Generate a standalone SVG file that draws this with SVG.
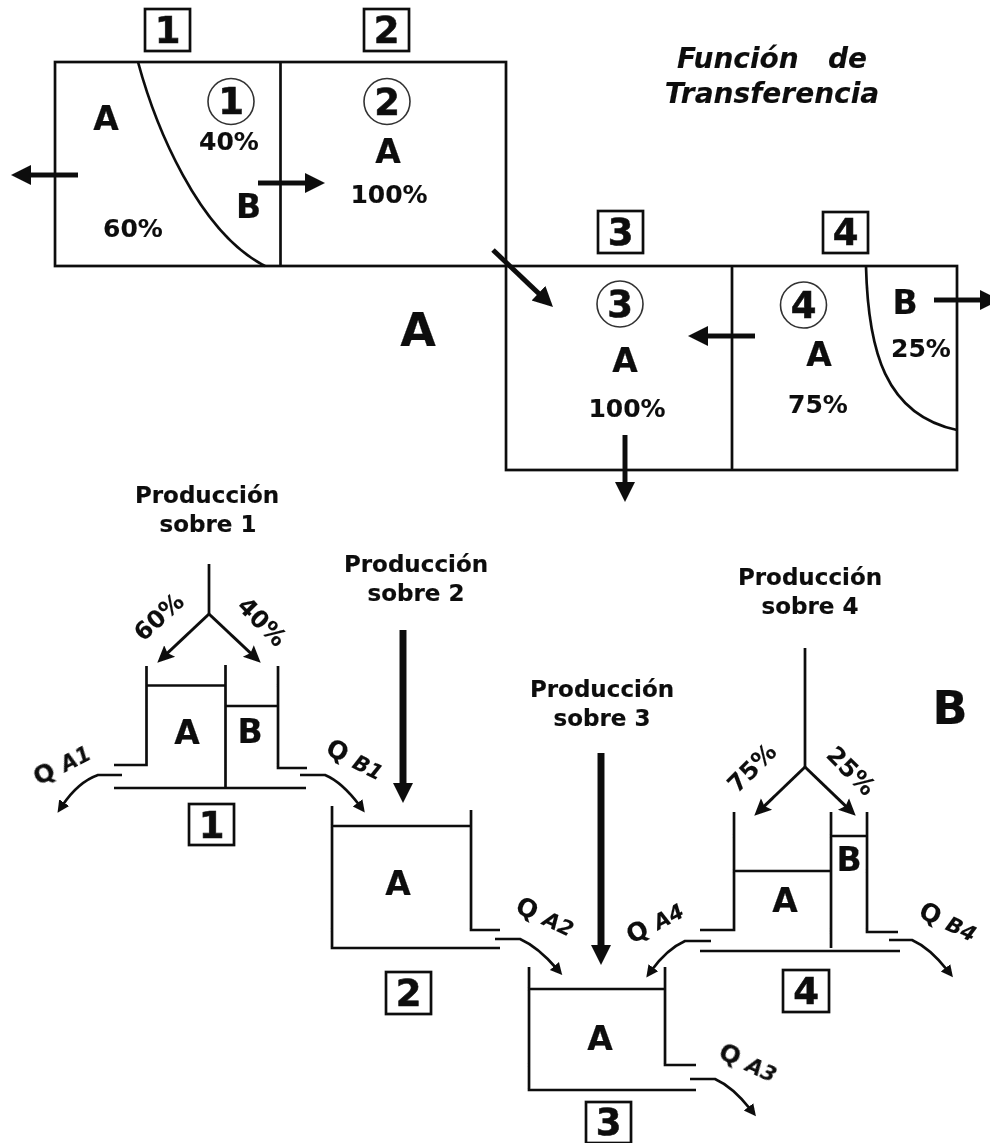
<svg xmlns="http://www.w3.org/2000/svg" width="990" height="1143" viewBox="0 0 990 1143">
<style>
text{font-family:"DejaVu Sans","Liberation Sans",sans-serif;font-weight:bold;fill:#111;text-anchor:middle;stroke:#111;stroke-width:.2}
.l{fill:none;stroke:#111;stroke-width:2.700}
.bx{fill:#fff;stroke:#111;stroke-width:2.700}
.c{fill:#fff;stroke:#333;stroke-width:1.600}
.n{font-size:37px;stroke-width:.6}.L{font-size:33px}.p{font-size:23px}.t{font-size:25px;stroke-width:.1}.big{font-size:46px}
.r{font-size:24px;stroke-width:.1}
.f{font-size:28px;font-style:italic;stroke-width:.1}
.q{font-size:25px;stroke-width:.1}.q tspan{font-size:21px;font-style:italic}
.a1{fill:none;stroke:#111;stroke-width:5}
.a2{fill:none;stroke:#111;stroke-width:3}
.a3{fill:none;stroke:#111;stroke-width:2.700}
.a4{fill:none;stroke:#111;stroke-width:7}
</style>
<defs>
<filter id="soft" filterUnits="userSpaceOnUse" x="0" y="0" width="990" height="1143"><feGaussianBlur stdDeviation="0.5"/></filter>
<marker id="h1" markerUnits="userSpaceOnUse" markerWidth="24" markerHeight="24" refX="8" refY="11" orient="auto"><path d="M0 1L20 11L0 21z" fill="#111"/></marker>
<marker id="h2" markerUnits="userSpaceOnUse" markerWidth="22" markerHeight="22" refX="6" refY="9" orient="auto"><path d="M0 1L17 9L0 17L3 9z" fill="#111"/></marker>
<marker id="h3" markerUnits="userSpaceOnUse" markerWidth="16" markerHeight="16" refX="4" refY="7" orient="auto"><path d="M0 1L12 7L0 13z" fill="#111"/></marker>
</defs>
<g filter="url(#soft)">
<g id="plan-1-2">
<rect class="l" x="55" y="62" width="451" height="204"/>
<path class="l" d="M280.500 62V266"/>
<path class="l" d="M138 62C155 125 198 232 265 266"/>
</g>
<g id="plan-3-4">
<rect class="l" x="506" y="266" width="451" height="204"/>
<path class="l" d="M732 266V470"/>
<path class="l" d="M866 266C868 350 885 415 957 430"/>
</g>
<g id="tag-1"><rect class="bx" x="145" y="9" width="45" height="42"/><text class="n" x="167.500" y="43">1</text></g>
<g id="tag-2"><rect class="bx" x="364" y="9" width="45" height="42"/><text class="n" x="386.500" y="43">2</text></g>
<g id="tag-3"><rect class="bx" x="598" y="211" width="45" height="42"/><text class="n" x="620.500" y="245">3</text></g>
<g id="tag-4"><rect class="bx" x="823" y="212" width="45" height="41"/><text class="n" x="845.500" y="245">4</text></g>
<g id="zone-1">
<circle class="c" cx="231" cy="101.500" r="23"/><text class="n" x="231" y="114">1</text>
<text class="L" x="106" y="130">A</text><text class="t" x="229" y="150">40%</text><text class="L" x="248.500" y="218">B</text><text class="t" x="133" y="237">60%</text>
</g>
<g id="zone-2">
<circle class="c" cx="387" cy="101.500" r="23"/><text class="n" x="387" y="114.500">2</text>
<text class="L" x="388" y="163">A</text><text class="t" x="389" y="203">100%</text>
</g>
<g id="zone-3">
<circle class="c" cx="620" cy="304" r="23"/><text class="n" x="620" y="317">3</text>
<text class="L" x="625" y="372">A</text><text class="t" x="627" y="417">100%</text>
</g>
<g id="zone-4">
<circle class="c" cx="803.500" cy="305" r="23"/><text class="n" x="803.500" y="318">4</text>
<text class="L" x="819" y="366">A</text><text class="t" x="818" y="413">75%</text><text class="L" x="905" y="314">B</text><text class="t" x="921" y="357">25%</text>
</g>
<g id="titles">
<text class="f" x="772" y="68" xml:space="preserve">Función   de</text>
<text class="f" x="772" y="103">Transferencia</text>
<text class="big" x="418" y="346">A</text>
<text class="big" x="950" y="724">B</text>
</g>
<g id="tank-1">
<path class="l" d="M146.500 666V765H114M146 685.500H225M225.500 665V788M225 706H278M278 666V768H307M114 788H306"/>
<text class="L" x="187" y="744">A</text><text class="L" x="250" y="743">B</text>
<rect class="bx" x="189" y="804" width="45" height="41"/><text class="n" x="211.500" y="838">1</text>
<text class="p" x="207" y="503">Producción</text><text class="p" x="208" y="532">sobre 1</text>
<text class="r" transform="translate(159 617) rotate(-42)" y="8">60%</text>
<text class="r" transform="translate(262 622) rotate(45)" y="8">40%</text>
<text class="q" transform="translate(62 765) rotate(-27)" y="8">Q <tspan>A1</tspan></text>
<text class="q" transform="translate(355 760) rotate(27)" y="8">Q <tspan>B1</tspan></text>
</g>
<g id="tank-2">
<path class="l" d="M332 806V948H500M332 826H471M471 810V930H500"/>
<text class="L" x="398" y="895">A</text>
<rect class="bx" x="386" y="972" width="45" height="42"/><text class="n" x="408.500" y="1006">2</text>
<text class="p" x="416" y="572">Producción</text><text class="p" x="416" y="601">sobre 2</text>
<text class="q" transform="translate(545 917) rotate(25)" y="8">Q <tspan>A2</tspan></text>
</g>
<g id="tank-3">
<path class="l" d="M529 967V1090H696M529 989H665M665 967V1065H696"/>
<text class="L" x="600" y="1050">A</text>
<rect class="bx" x="586" y="1102" width="45" height="41"/><text class="n" x="608.500" y="1135">3</text>
<text class="p" x="602" y="697">Producción</text><text class="p" x="602" y="726">sobre 3</text>
<text class="q" transform="translate(748 1063) rotate(25)" y="8">Q <tspan>A3</tspan></text>
</g>
<g id="tank-4">
<path class="l" d="M734 812V930H700M735 871H830M831 812V948M831 836H867M867 812V932H898M700 951H900"/>
<text class="L" x="785" y="912">A</text><text class="L" x="849" y="871">B</text>
<rect class="bx" x="783" y="970" width="46" height="42"/><text class="n" x="806" y="1004">4</text>
<text class="p" x="810" y="585">Producción</text><text class="p" x="810" y="614">sobre 4</text>
<text class="r" transform="translate(752 768) rotate(-45)" y="8">75%</text>
<text class="r" transform="translate(851 771) rotate(45)" y="8">25%</text>
<text class="q" transform="translate(655 923) rotate(-28)" y="8">Q <tspan>A4</tspan></text>
<text class="q" transform="translate(948 922) rotate(25)" y="8">Q <tspan>B4</tspan></text>
</g>
<g id="connectors">
<path class="a1" marker-end="url(#h1)" d="M78 175H23"/>
<path class="a1" marker-end="url(#h1)" d="M258 183H313"/>
<path class="a1" marker-end="url(#h1)" d="M493 250L544.300 298.700"/>
<path class="a1" marker-end="url(#h1)" d="M755 336H700"/>
<path class="a1" marker-end="url(#h1)" d="M934 300H988"/>
<path class="a1" marker-end="url(#h1)" d="M625 435V490"/>
<path class="a4" marker-end="url(#h1)" d="M403 630V791"/>
<path class="a4" marker-end="url(#h1)" d="M601 753V953"/>
<path class="a3" d="M209 564V614"/>
<path class="a2" marker-end="url(#h2)" d="M209 614L165.300 655.100"/>
<path class="a2" marker-end="url(#h2)" d="M209 614L252.700 655.100"/>
<path class="a3" d="M805 648V767"/>
<path class="a2" marker-end="url(#h2)" d="M805 767L762.200 808.100"/>
<path class="a2" marker-end="url(#h2)" d="M805 767L847.800 808.100"/>
<path class="a3" marker-end="url(#h3)" d="M122 775H98Q78 782 62 806"/>
<path class="a3" marker-end="url(#h3)" d="M300 775H325Q342 782 360 806"/>
<path class="a3" marker-end="url(#h3)" d="M495 939H520Q538 947 557 969"/>
<path class="a3" marker-end="url(#h3)" d="M711 941H685Q667 949 651 971"/>
<path class="a3" marker-end="url(#h3)" d="M889 940H912Q930 948 948 971"/>
<path class="a3" marker-end="url(#h3)" d="M690 1079H715Q733 1087 751 1110"/>
</g>
</g>
</svg>
